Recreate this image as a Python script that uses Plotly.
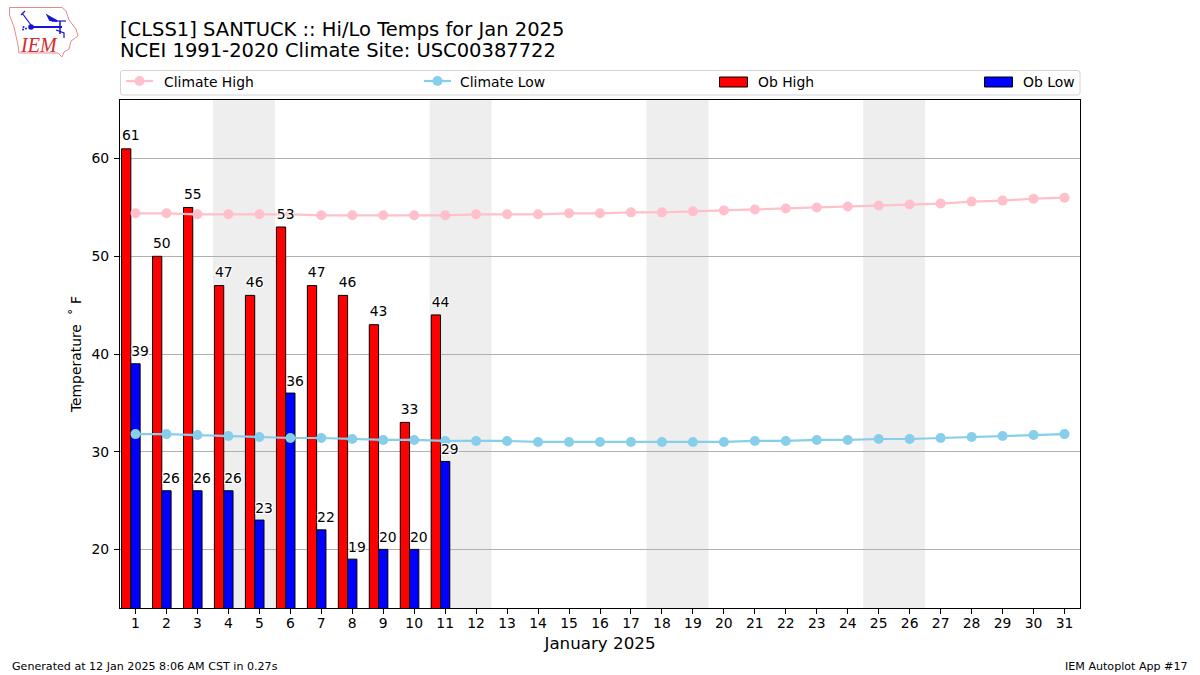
import numpy as np
import plotly.graph_objects as go

days = list(range(1, 32))
ob_days = list(range(1, 12))
ob_high = [61, 50, 55, 47, 46, 53, 47, 46, 43, 33, 44]
ob_low = [39, 26, 26, 26, 23, 36, 22, 19, 20, 20, 29]
climate_high = [54.4, 54.4, 54.3, 54.3, 54.3, 54.3, 54.2, 54.2, 54.2, 54.2, 54.2, 54.3, 54.3, 54.3, 54.4, 54.4,
                54.5, 54.5, 54.6, 54.7, 54.8, 54.9, 55.0, 55.1, 55.2, 55.3, 55.4, 55.6, 55.7, 55.9, 56.0]
climate_low = [31.8, 31.8, 31.7, 31.6, 31.5, 31.4, 31.4, 31.3, 31.2, 31.2, 31.1, 31.1, 31.1, 31.0, 31.0, 31.0,
               31.0, 31.0, 31.0, 31.0, 31.1, 31.1, 31.2, 31.2, 31.3, 31.3, 31.4, 31.5, 31.6, 31.7, 31.8]
weekends = [(3.5, 5.5), (10.5, 12.5), (17.5, 19.5), (24.5, 26.5)]

W, H = 1200, 675
FONT = "DejaVu Sans"
HALO = "-1px -1px 0 #fff, 1px -1px 0 #fff, -1px 1px 0 #fff, 1px 1px 0 #fff"


def px(x):
    return x / W


def py(y):
    return 1 - y / H


# plot area in pixels: left 120, right 1080, top 100, bottom 608
M = dict(l=120, r=120, t=100, b=67, pad=0)
PLOT_L, PLOT_R, PLOT_T, PLOT_B = 120, 1080, 100, 608


def to_paper_x(x):
    return (x - PLOT_L) / (PLOT_R - PLOT_L)


def to_paper_y(y):
    return (PLOT_B - y) / (PLOT_B - PLOT_T)


def path(points, close=True):
    s = "M" + " L".join(f"{to_paper_x(x):.5f},{to_paper_y(y):.5f}" for x, y in points)
    return s + (" Z" if close else "")


def pline(points, color, width, close=False, fill=None):
    return dict(type="path", xref="paper", yref="paper", path=path(points, close), layer="above",
                line=dict(color=color, width=width), fillcolor=fill or "rgba(0,0,0,0)")


def circle(cx, cy, r, color):
    return dict(type="circle", xref="paper", yref="paper", layer="above",
                x0=to_paper_x(cx - r), x1=to_paper_x(cx + r), y0=to_paper_y(cy + r), y1=to_paper_y(cy - r),
                fillcolor=color, line=dict(color=color, width=0))


def rect(x0, y0, x1, y1):
    return (to_paper_x(x0), to_paper_y(y0), to_paper_x(x1), to_paper_y(y1))


fig = go.Figure()
fig.add_bar(x=ob_days, y=ob_high, width=0.3, offset=-0.45, marker=dict(color="#ff0000", line=dict(color="black", width=1)),
            name="Ob High", showlegend=False)
fig.add_bar(x=ob_days, y=ob_low, width=0.3, offset=-0.15, marker=dict(color="#0000ff", line=dict(color="black", width=1)),
            name="Ob Low", showlegend=False)
fig.add_scatter(x=days, y=climate_high, mode="lines+markers", name="Climate High", showlegend=False,
                line=dict(color="#ffc0cb", width=2.2), marker=dict(color="#ffc0cb", size=10))
fig.add_scatter(x=days, y=climate_low, mode="lines+markers", name="Climate Low", showlegend=False,
                line=dict(color="#87ceeb", width=2.2), marker=dict(color="#87ceeb", size=10))
lab = dict(family=FONT, size=13.9, color="black", shadow=HALO)
fig.add_scatter(x=np.array(ob_days) - 0.15, y=np.array(ob_high) + 0.5, mode="text", text=[str(v) for v in ob_high],
                textposition="top center", textfont=lab, showlegend=False, hoverinfo="skip")
fig.add_scatter(x=np.array(ob_days) + 0.15, y=np.array(ob_low) + 0.4, mode="text", text=[str(v) for v in ob_low],
                textposition="top center", textfont=lab, showlegend=False, hoverinfo="skip")

shapes = [dict(type="rect", xref="x", yref="paper", x0=a, x1=b, y0=0, y1=1, layer="below",
               fillcolor="#eeeeee", line=dict(width=0)) for a, b in weekends]

# legend frame with rounded corners
x0, x1, y0, y1 = 120.5, 1080, 70.5, 95
r = 2.5
fx = to_paper_x
fy = to_paper_y
frame = (f"M{fx(x0+r)},{fy(y0)} L{fx(x1-r)},{fy(y0)} Q{fx(x1)},{fy(y0)} {fx(x1)},{fy(y0+r)} "
         f"L{fx(x1)},{fy(y1-r)} Q{fx(x1)},{fy(y1)} {fx(x1-r)},{fy(y1)} "
         f"L{fx(x0+r)},{fy(y1)} Q{fx(x0)},{fy(y1)} {fx(x0)},{fy(y1-r)} "
         f"L{fx(x0)},{fy(y0+r)} Q{fx(x0)},{fy(y0)} {fx(x0+r)},{fy(y0)} Z")
shapes.append(dict(type="path", xref="paper", yref="paper", path=frame, layer="above",
                   line=dict(color="#d4d4d4", width=1), fillcolor="white"))
# legend keys
shapes += [pline([(126, 81), (153, 81)], "#ffc0cb", 2.2), circle(139.5, 81, 5, "#ffc0cb"),
           pline([(424, 81), (451, 81)], "#87ceeb", 2.2), circle(437.5, 81, 5, "#87ceeb")]
for (a, b), c in zip([(719.5, 747.5), (984.5, 1012.5)], ["#ff0000", "#0000ff"]):
    q = rect(a, 77, b, 87)
    shapes.append(dict(type="rect", xref="paper", yref="paper", x0=q[0], y0=q[1], x1=q[2], y1=q[3], layer="above",
                       fillcolor=c, line=dict(color="black", width=1)))

# IEM logo
RED = "#e58a8a"
BLUE = "#1515d8"
shapes.append(pline([(9.5, 7.5), (62, 7.5), (66, 11), (69, 20), (76, 29), (78, 36), (71, 41), (69, 49), (64, 52),
                     (62, 57), (58, 53), (19, 53), (18, 45), (14, 27), (9.5, 15)], RED, 1, close=True))
shapes += [pline([(31, 27), (62, 27)], BLUE, 2), circle(31, 27, 2.8, BLUE),
           pline([(22, 13), (31, 25)], BLUE, 1.2), pline([(21, 15), (25, 11)], BLUE, 1.2),
           pline([(48, 16), (57, 21), (50, 20)], BLUE, 2, close=True, fill=BLUE),
           pline([(52, 21), (66, 21)], BLUE, 1.2), pline([(60, 21), (60, 34)], BLUE, 1.5),
           pline([(56, 30), (64, 33), (64, 38)], BLUE, 1.2),
           circle(23.5, 27, 1, BLUE), circle(26, 28.5, 1, BLUE), circle(23, 29.5, 1, BLUE)]


def note(x, y, text, size, xanchor="left", color="black", family=FONT, yanchor="middle"):
    return dict(xref="paper", yref="paper", x=to_paper_x(x), y=to_paper_y(y), text=text, showarrow=False,
                xanchor=xanchor, yanchor=yanchor, font=dict(family=family, size=size, color=color),
                borderpad=0, borderwidth=0)


annotations = [
    note(120, 50.5, "NCEI 1991-2020 Climate Site: USC00387722", 19.5),
    note(164, 81.5, "Climate High", 13.9),
    note(460, 81.5, "Climate Low", 13.9),
    note(758, 81.5, "Ob High", 13.9),
    note(1023, 81.5, "Ob Low", 13.9),
    note(11.5, 666, "Generated at 12 Jan 2025 8:06 AM CST in 0.27s", 11.1),
    note(1188, 666, "IEM Autoplot App #17", 11.1, xanchor="right"),
    note(20, 45, "<i>IEM</i>", 20, color="#d42a2a", family="Liberation Serif"),
]

fig.update_layout(
    width=W, height=H, autosize=False, margin=M, paper_bgcolor="white", plot_bgcolor="white",
    barmode="overlay", showlegend=False, hovermode=False,
    font=dict(family=FONT, size=13.9, color="black"),
    title=dict(text="[CLSS1] SANTUCK :: Hi/Lo Temps for Jan 2025", x=px(120), xanchor="left", y=py(29),
               yanchor="middle", xref="container", yref="container", font=dict(family=FONT, size=19.5, color="black"),
               pad=dict(l=0, r=0, t=0, b=0)),
    shapes=shapes, annotations=annotations,
    xaxis=dict(range=[0.5, 31.5], tickmode="array", tickvals=days, ticktext=[str(d) for d in days],
               ticks="outside", ticklen=5, tickwidth=1, tickcolor="black", showgrid=False, zeroline=False,
               showline=True, linecolor="black", linewidth=1, mirror=True, tickangle=0, ticklabelstandoff=-3,
               tickfont=dict(family=FONT, size=13.9, color="black"),
               title=dict(text="January 2025", standoff=7, font=dict(family=FONT, size=16.7, color="black"))),
    yaxis=dict(range=[14, 66], tickmode="array", tickvals=[20, 30, 40, 50, 60],
               ticks="outside", ticklen=5, tickwidth=1, tickcolor="black", showgrid=True, gridcolor="#b0b0b0",
               gridwidth=1, zeroline=False, showline=True, linecolor="black", linewidth=1, mirror=True,
               ticklabelstandoff=2,
               tickfont=dict(family=FONT, size=13.9, color="black"),
               title=dict(text="Temperature\u00a0\u00a0˚\u00a0F", standoff=6, font=dict(family=FONT, size=13.9, color="black"))),
)

fig.write_html("out.html", config=dict(displayModeBar=False),
               post_script="document.body.style.margin='0';document.documentElement.style.overflow='hidden';")
